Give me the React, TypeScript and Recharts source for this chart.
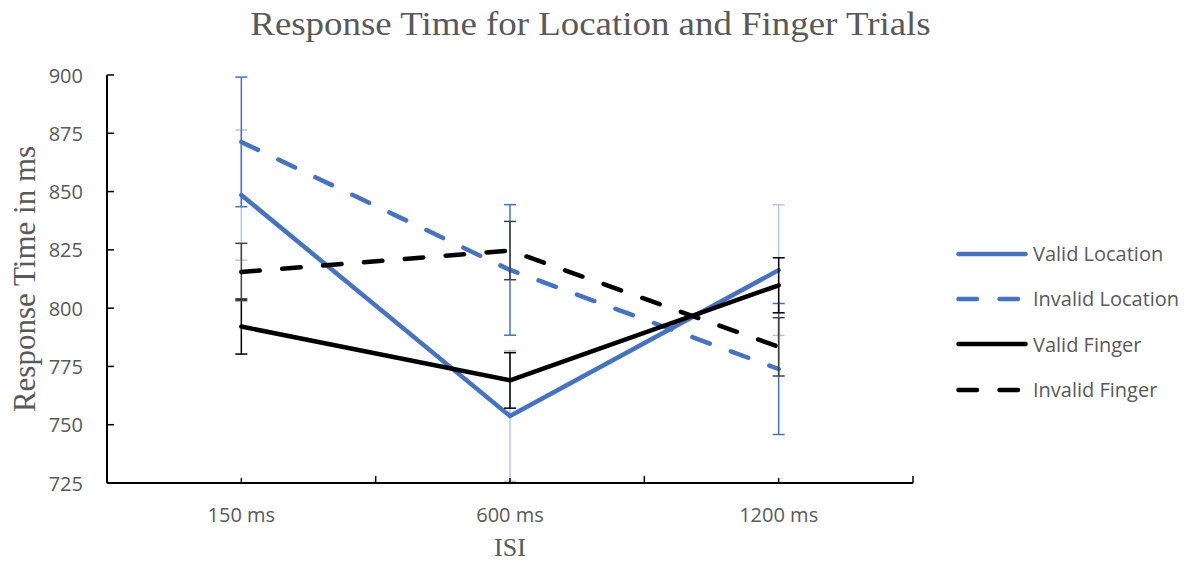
import { LineChart, Line, XAxis, YAxis, ErrorBar, Legend } from 'recharts'

const isiLabels = ['150 ms', '600 ms', '1200 ms']
const validLocation = [848.5, 753.7, 816.3]
const validLocationErr = [27.9, 28.0, 28.0]
const invalidLocation = [871.3, 816.4, 773.9]
const invalidLocationErr = [27.8, 28.0, 28.1]
const validFinger = [792.1, 769.0, 809.8]
const validFingerErr = [11.8, 11.9, 11.8]
const invalidFinger = [815.5, 824.7, 783.4]
const invalidFingerErr = [12.3, 12.5, 12.5]
const yTicks = [725, 750, 775, 800, 825, 850, 875, 900]

// half-step ticks: integers are category edges, halves are category centres
const xTicks = Array.from({ length: isiLabels.length * 2 + 1 }, (_, i) => i / 2)

const data = isiLabels.map((isi, i) => ({
  isi,
  pos: i + 0.5,
  vl: validLocation[i],
  vlErr: validLocationErr[i],
  il: invalidLocation[i],
  ilErr: invalidLocationErr[i],
  vf: validFinger[i],
  vfErr: validFingerErr[i],
  if: invalidFinger[i],
  ifErr: invalidFingerErr[i],
}))

const DASH = '18.5 22.5'
const TEXT = '#595959'
const SANS = '"Open Sans", sans-serif'
const SERIF = '"Liberation Serif", "Times New Roman", serif'

const series = [
  { key: 'vl', name: 'Valid Location', color: '#4472C4', dash: undefined, errColor: '#b4c7e7' },
  { key: 'il', name: 'Invalid Location', color: '#4472C4', dash: DASH, errColor: '#4472C4' },
  { key: 'vf', name: 'Valid Finger', color: '#000000', dash: undefined, errColor: '#000000' },
  { key: 'if', name: 'Invalid Finger', color: '#000000', dash: DASH, errColor: '#404040' },
]

const Y_MARGIN = 24
const X_MARGIN = 31.5

function YTick({ x, y, payload }: any) {
  const axisX = x + Y_MARGIN
  return (
    <g>
      <line x1={axisX} x2={axisX + 7} y1={y} y2={y} stroke="#000" strokeWidth={1.5} />
      <text x={x} y={y} textAnchor="end" dominantBaseline="central" fill={TEXT} fontSize={20} fontFamily={SANS}>
        {payload.value}
      </text>
    </g>
  )
}

function XTick({ x, y, payload }: any) {
  const axisY = y - X_MARGIN
  const v = payload.value as number
  const edge = Number.isInteger(v)
  return (
    <g>
      <line x1={x} x2={x} y1={axisY} y2={axisY - (edge ? 7 : 5)} stroke="#000" strokeWidth={1.5} />
      {!edge && (
        <text x={x} y={y} textAnchor="middle" dominantBaseline="central" fill={TEXT} fontSize={20} fontFamily={SANS}>
          {isiLabels[Math.floor(v)]}
        </text>
      )}
    </g>
  )
}

function LegendBox() {
  return (
    <div style={{ width: 279, paddingLeft: 43, boxSizing: 'border-box' }}>
      {series.map(s => (
        <div key={s.key} style={{ display: 'flex', alignItems: 'center', height: 45.3 }}>
          <svg width={72} height={10} style={{ display: 'block' }}>
            <line x1={2.5} x2={69.5} y1={5} y2={5} stroke={s.color} strokeWidth={4.5}
              strokeDasharray={s.dash} strokeLinecap="round" />
          </svg>
          <span style={{ marginLeft: 5, fontFamily: SANS, fontSize: 20, color: TEXT, whiteSpace: 'nowrap' }}>
            {s.name}
          </span>
        </div>
      ))}
    </div>
  )
}

export default function App() {
  return (
    <div style={{ position: 'absolute', left: 0, top: 0, width: 1192, height: 562, background: '#fff' }}>
      <div style={{
        position: 'absolute', left: 0, top: 6.5, width: 1181, textAlign: 'center',
        fontFamily: SERIF, fontSize: 34, lineHeight: '34px', color: TEXT,
        transform: 'scaleX(1.085)', whiteSpace: 'nowrap',
      }}>
        Response Time for Location and Finger Trials
      </div>
      <LineChart width={1192} height={562} data={data} margin={{ top: 75, right: 0, left: 0, bottom: 0 }}>
        <XAxis
          dataKey="pos"
          type="number"
          domain={[0, isiLabels.length]}
          ticks={xTicks}
          interval={0}
          height={79}
          tickSize={0}
          tickMargin={X_MARGIN}
          tick={<XTick />}
          axisLine={{ stroke: '#000', strokeWidth: 2 }}
          label={{ value: 'ISI', position: 'insideBottom', offset: 6, style: { fill: TEXT, fontFamily: SERIF, fontSize: 26 } }}
        />
        <YAxis
          type="number"
          domain={[725, 900]}
          ticks={yTicks}
          interval={0}
          allowDataOverflow
          width={107}
          tickSize={0}
          tickMargin={Y_MARGIN}
          tick={<YTick />}
          axisLine={{ stroke: '#000', strokeWidth: 2 }}
          label={{
            value: 'Response Time in ms', angle: -90, position: 'insideLeft', offset: 23.5,
            style: { textAnchor: 'middle', fill: TEXT, fontFamily: SERIF, fontSize: 31 },
          }}
        />
        <Legend layout="vertical" align="right" verticalAlign="top" content={<LegendBox />}
          wrapperStyle={{ top: 231 }} />
        {series.map(s => (
          <Line
            key={s.key}
            type="linear"
            dataKey={s.key}
            name={s.name}
            stroke={s.color}
            strokeWidth={4.5}
            strokeDasharray={s.dash}
            strokeLinecap="round"
            strokeLinejoin="round"
            dot={false}
            activeDot={false}
            isAnimationActive={false}
          >
            <ErrorBar dataKey={`${s.key}Err`} direction="y" width={6} stroke={s.errColor} strokeWidth={1.5}
              isAnimationActive={false} />
          </Line>
        ))}
      </LineChart>
    </div>
  )
}
